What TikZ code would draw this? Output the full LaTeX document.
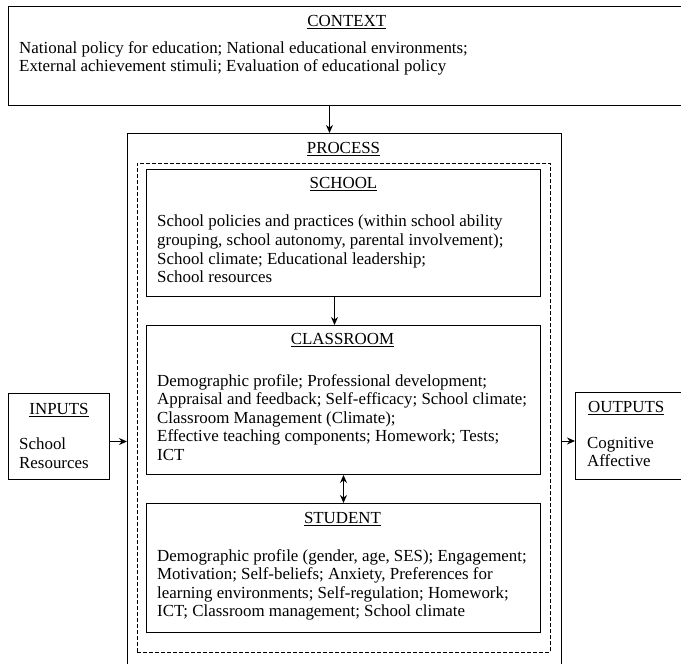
\documentclass[tikz,border=0pt]{standalone}
\usepackage{fontspec}
\setmainfont{Liberation Serif}
\usetikzlibrary{arrows.meta, positioning}
\tikzstyle{frame} = [rectangle, draw=black, line width=1pt, inner sep=0pt, anchor=north west]
\tikzstyle{dframe} = [frame, line width=0.8pt, dash pattern=on 4pt off 2pt]
\tikzstyle{title} = [inner sep=0pt]
\tikzstyle{body} = [inner sep=0pt, align=left]
\tikzstyle{arrow} = [line width=1pt,->,>={Stealth[length=8pt,width=7pt]}]

\begin{document}
\begin{tikzpicture}[x=1pt, y=-1pt, font=\fontsize{16.9}{18.6}\selectfont]
   \useasboundingbox (0,0) rectangle (681,664);
   \clip (0,0) rectangle (681,664);

   % boxes
   \node (context) [frame, minimum width=672.5, minimum height=99] at (8,6) {};
   \node (process) [frame, minimum width=434, minimum height=560] at (127,133) {};
   \node (inner) [dframe, minimum width=413, minimum height=489] at (137,163) {};
   \node (school) [frame, minimum width=394, minimum height=127] at (146,169) {};
   \node (classroom) [frame, minimum width=394, minimum height=149] at (146,325) {};
   \node (student) [frame, minimum width=394, minimum height=129] at (146,503) {};
   \node (inputs) [frame, minimum width=101, minimum height=86] at (8,393) {};
   \node (outputs) [frame, minimum width=120, minimum height=87] at (575,392) {};

   % titles
   \node (contexttitle) [title, below=9pt of context.north, xshift=2pt] {\underline{CONTEXT}};
   \node (processtitle) [title, below=9.2pt of process.north, xshift=-1pt] {\underline{PROCESS}};
   \node (schooltitle) [title, below=8.2pt of school.north] {\underline{SCHOOL}};
   \node (classroomtitle) [title, below=8.2pt of classroom.north, xshift=-1pt] {\underline{CLASSROOM}};
   \node (studenttitle) [title, below=9.2pt of student.north, xshift=-1pt] {\underline{STUDENT}};
   \node (inputstitle) [title, below=10.2pt of inputs.north] {\underline{INPUTS}};
   \node (outputstitle) [title, below right=9.2pt and 13pt of outputs.north west] {\underline{OUTPUTS}};

   % texts
   \node (contexttext) [body, below right=35pt and 11pt of context.north west]
      {National policy for education; National educational environments;\\
       External achievement stimuli; Evaluation of educational policy};
   \node (schooltext) [body, below right=46pt and 11pt of school.north west]
      {School policies and practices (within school ability\\
       grouping, school autonomy, parental involvement);\\
       School climate; Educational leadership;\\
       School resources};
   \node (classroomtext) [body, below right=49pt and 11pt of classroom.north west]
      {Demographic profile; Professional development;\\
       Appraisal and feedback; Self-efficacy; School climate;\\
       Classroom Management (Climate);\\
       Effective teaching components; Homework; Tests;\\
       ICT};
   \node (studenttext) [body, below right=46pt and 11pt of student.north west]
      {Demographic profile (gender, age, SES); Engagement;\\
       Motivation; Self-beliefs; Anxiety, Preferences for\\
       learning environments; Self-regulation; Homework;\\
       ICT; Classroom management; School climate};
   \node (inputstext) [body, below right=45pt and 11pt of inputs.north west]
      {School\\Resources};
   \node (outputstext) [body, below right=45pt and 12pt of outputs.north west]
      {Cognitive\\Affective};

   % connectors
   \draw [arrow] ([xshift=-15pt]process.north |- context.south) -- ([xshift=-15pt]process.north);
   \draw [arrow] ([xshift=-9pt]school.south) -- ([xshift=-9pt]classroom.north);
   \draw [arrow,<->] (classroom.south) -- (student.north);
   \draw [arrow] ([yshift=-5pt]inputs.east) -- ([yshift=-5pt]inputs.east -| process.west);
   \draw [arrow] ([yshift=-5pt]outputs.west -| process.east) -- ([yshift=-5pt]outputs.west);
\end{tikzpicture}
\end{document}
